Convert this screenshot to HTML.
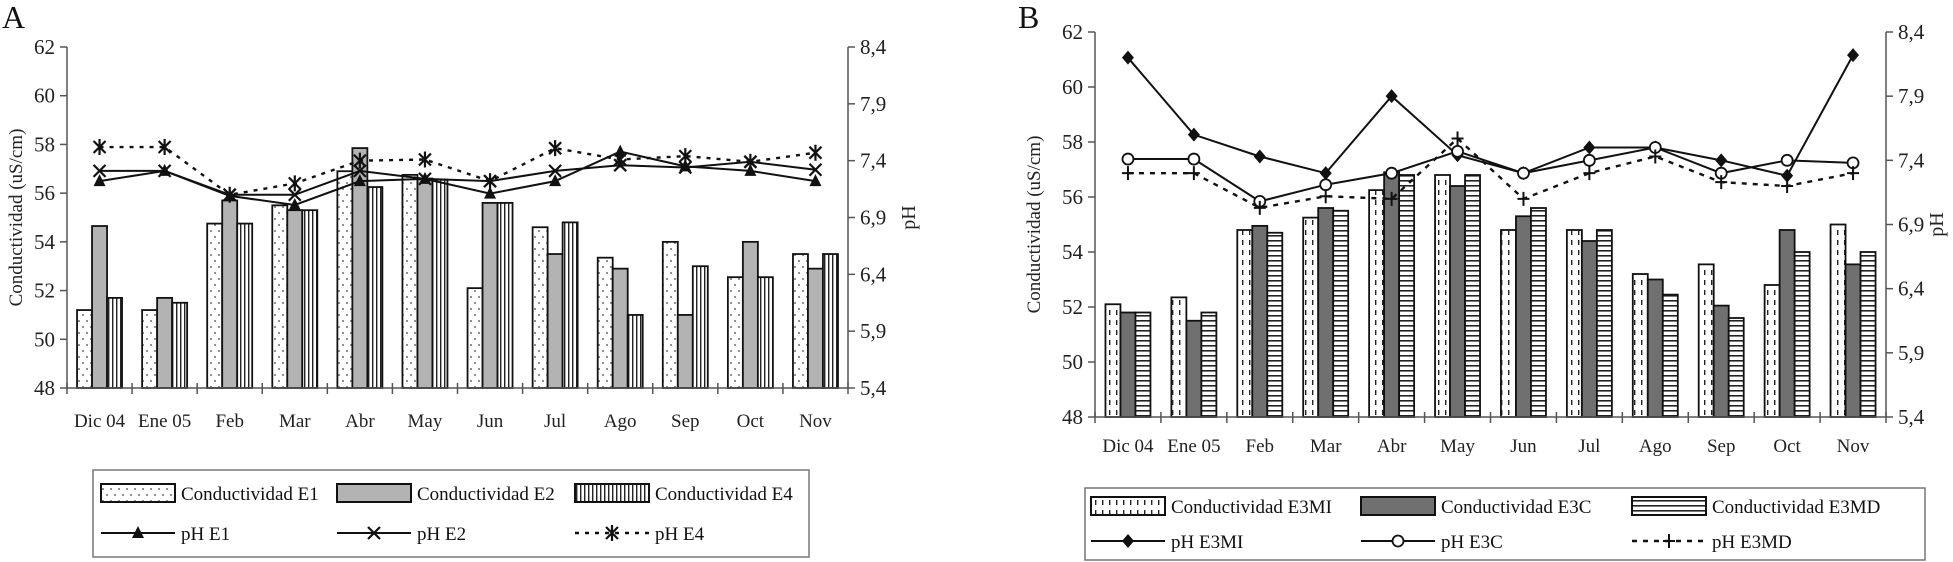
<!DOCTYPE html>
<html><head><meta charset="utf-8"><style>
html,body{margin:0;padding:0;background:#fff;}
svg{display:block;font-family:"Liberation Serif",serif;}
</style></head><body>
<svg id="root" width="1953" height="562" viewBox="0 0 1953 562" xmlns="http://www.w3.org/2000/svg">
<defs>
<pattern id="pDots" width="8" height="12" patternUnits="userSpaceOnUse"><rect width="8" height="12" fill="#fff"/><circle cx="3" cy="3" r="0.9" fill="#444"/><circle cx="7" cy="9" r="0.9" fill="#444"/></pattern>
<pattern id="pVert" width="4" height="10" patternUnits="userSpaceOnUse"><rect width="4" height="10" fill="#fff"/><rect x="0" width="1.4" height="10" fill="#222"/></pattern>
<pattern id="pDash" width="7" height="10" patternUnits="userSpaceOnUse"><rect width="7" height="10" fill="#fff"/><rect x="3" y="0" width="1.4" height="5" fill="#222"/></pattern>
<pattern id="pHor" width="10" height="5" patternUnits="userSpaceOnUse"><rect width="10" height="5" fill="#fff"/><rect y="0" width="10" height="1.6" fill="#222"/></pattern>
</defs>
<g id="gA"></g>
<g id="gB"></g>
</svg>
<script>
const months = ["Dic 04","Ene 05","Feb","Mar","Abr","May","Jun","Jul","Ago","Sep","Oct","Nov"];
const condTicks = [48,50,52,54,56,58,60,62];
const phTicks = ["5,4","5,9","6,4","6,9","7,4","7,9","8,4"];
const phTickVals = [5.4,5.9,6.4,6.9,7.4,7.9,8.4];
// Chart A
const condE1 = [51.2,51.2,54.75,55.5,56.9,56.75,52.1,54.6,53.35,54.0,52.55,53.5];
const condE2 = [54.65,51.7,55.7,55.3,57.85,56.6,55.6,53.5,52.9,51.0,54.0,52.9];
const condE4 = [51.7,51.5,54.75,55.3,56.25,56.55,55.6,54.8,51.0,53.0,52.55,53.5];
const phE1 = [7.22,7.31,7.09,7.01,7.22,7.24,7.11,7.22,7.48,7.35,7.31,7.22];
const phE2 = [7.31,7.31,7.10,7.10,7.31,7.24,7.22,7.31,7.36,7.34,7.39,7.32];
const phE4 = [7.52,7.52,7.10,7.20,7.40,7.41,7.22,7.51,7.41,7.44,7.39,7.47];
// Chart B
const condE3MI = [52.1,52.35,54.8,55.25,56.25,56.8,54.8,54.8,53.2,53.55,52.8,55.0];
const condE3C = [51.8,51.5,54.95,55.6,56.9,56.4,55.3,54.4,53.0,52.05,54.8,53.55];
const condE3MD = [51.8,51.8,54.7,55.5,56.8,56.8,55.6,54.8,52.45,51.6,54.0,54.0];
const phE3MI = [8.2,7.6,7.43,7.3,7.9,7.44,7.3,7.5,7.5,7.4,7.28,8.22];
const phE3C = [7.41,7.41,7.08,7.21,7.3,7.47,7.3,7.4,7.5,7.3,7.4,7.38];
const phE3MD = [7.3,7.3,7.03,7.12,7.1,7.57,7.1,7.3,7.43,7.23,7.2,7.3];

const NS="http://www.w3.org/2000/svg";
function mk(parent,tag,attrs,text){const e=document.createElementNS(NS,tag);for(const k in attrs)e.setAttribute(k,attrs[k]);if(text!==undefined)e.textContent=text;parent.appendChild(e);return e;}

function marker(g,type,x,y){
  if(type==="tri"){mk(g,"polygon",{points:`${x},${y-7} ${x-6},${y+5} ${x+6},${y+5}`,fill:"#111"});}
  else if(type==="x"){mk(g,"path",{d:`M${x-6},${y-6}L${x+6},${y+6}M${x+6},${y-6}L${x-6},${y+6}`,stroke:"#111","stroke-width":2.2,fill:"none"});}
  else if(type==="ast"){mk(g,"path",{d:`M${x-6},${y-6}L${x+6},${y+6}M${x+6},${y-6}L${x-6},${y+6}M${x},${y-8}L${x},${y+8}`,stroke:"#111","stroke-width":2.2,fill:"none"});}
  else if(type==="dia"){mk(g,"polygon",{points:`${x},${y-7} ${x+6},${y} ${x},${y+7} ${x-6},${y}`,fill:"#111"});}
  else if(type==="circ"){mk(g,"circle",{cx:x,cy:y,r:5.5,fill:"#fff",stroke:"#111","stroke-width":1.8});}
  else if(type==="plus"){mk(g,"path",{d:`M${x-6},${y}L${x+6},${y}M${x},${y-7}L${x},${y+7}`,stroke:"#111","stroke-width":2,fill:"none"});}
}

function drawChart(g,cfg){
  const L=cfg.left,R=cfg.right,T=cfg.top,B=cfg.bottom;
  const cw=(R-L)/months.length;
  const yC=v=>B-(v-48)/(62-48)*(B-T);
  const yP=v=>B-(v-5.4)/(8.4-5.4)*(B-T);
  const xC=i=>L+cw*(i+0.5);
  const t=mk(g,"text",{x:cfg.letterX,y:cfg.letterY,"font-size":32,fill:"#111"},cfg.letter);
  
  
  const bw=15;
  cfg.bars.forEach((s,si)=>{
    const bg=mk(g,"g",{});
    
    
    s.vals.forEach((v,i)=>{
      const x=xC(i)-1.5*bw+si*bw;
      const r=mk(bg,"rect",{x:x,y:yC(v),width:bw,height:B-yC(v),fill:s.fill,stroke:"#111","stroke-width":1.8});
      
      
    });
  });
  const ax=mk(g,"g",{stroke:"#555","stroke-width":1.5,fill:"none"});
  
  
  mk(ax,"line",{x1:L,y1:T,x2:L,y2:B});
  mk(ax,"line",{x1:R,y1:T,x2:R,y2:B});
  mk(ax,"line",{x1:L,y1:B,x2:R,y2:B});
  condTicks.forEach(v=>{mk(ax,"line",{x1:L-7,y1:yC(v),x2:L,y2:yC(v)});});
  phTickVals.forEach(v=>{mk(ax,"line",{x1:R,y1:yP(v),x2:R+7,y2:yP(v)});});
  for(let i=0;i<=months.length;i++){const x=L+cw*i;mk(ax,"line",{x1:x,y1:B-5,x2:x,y2:B+6});}
  condTicks.forEach(v=>{
    const e=mk(g,"text",{x:L-12,y:yC(v)+7,"font-size":21,"text-anchor":"end",fill:"#222"},String(v));
    
    
  });
  phTicks.forEach((lab,i)=>{
    const e=mk(g,"text",{x:R+12,y:yP(phTickVals[i])+7,"font-size":21,fill:"#222"},lab);
    
    
  });
  months.forEach((m,i)=>{
    const e=mk(g,"text",{x:xC(i),y:cfg.monthY,"font-size":19,"text-anchor":"middle",fill:"#222"},m);
    
    
  });
  const yt=mk(g,"text",{x:0,y:0,"font-size":19,"text-anchor":"middle",fill:"#222",transform:`translate(${cfg.ytX},${(T+B)/2}) rotate(-90)`},"Conductividad (uS/cm)");
  
  
  const pt=mk(g,"text",{x:0,y:0,"font-size":20,"text-anchor":"middle",fill:"#222",transform:`translate(${cfg.phX},${(T+B)/2}) rotate(-90)`},"pH");
  
  
  cfg.lines.forEach(s=>{
    const lg=mk(g,"g",{});
    
    
    const pts=s.vals.map((v,i)=>xC(i)+","+yP(v)).join(" ");
    mk(lg,"polyline",{points:pts,fill:"none",stroke:"#111","stroke-width":s.dash?2.4:2,"stroke-dasharray":s.dash||"none"});
    s.vals.forEach((v,i)=>marker(lg,s.marker,xC(i),yP(v)));
  });
  const lgd=mk(g,"g",{});
  
  
  const Lg=cfg.legend;
  mk(lgd,"rect",{x:Lg.x,y:Lg.y,width:Lg.w,height:Lg.h,fill:"#fff",stroke:"#777","stroke-width":1.5});
  cfg.bars.forEach((s,i)=>{
    const sx=Lg.cols[i];
    const it=mk(lgd,"g",{});
    
    
    mk(it,"rect",{x:sx,y:Lg.r1-9,width:74,height:18,fill:s.fill,stroke:"#111","stroke-width":2});
    mk(it,"text",{x:sx+80,y:Lg.r1+7,"font-size":19,fill:"#111"},s.label);
  });
  cfg.lines.forEach((s,i)=>{
    const sx=Lg.cols[i];
    const it=mk(lgd,"g",{});
    
    
    mk(it,"line",{x1:sx,y1:Lg.r2,x2:sx+74,y2:Lg.r2,stroke:"#111","stroke-width":s.dash?2.4:2,"stroke-dasharray":s.dash||"none"});
    marker(it,s.marker,sx+37,Lg.r2);
    mk(it,"text",{x:sx+80,y:Lg.r2+7,"font-size":19,fill:"#111"},s.label);
  });
}

drawChart(document.getElementById("gA"),{
  letter:"A",letterX:2,letterY:28,left:67,right:848,top:47,bottom:388,monthY:427,ytX:22,phX:915,
  bars:[{name:"e1",label:"Conductividad E1",vals:condE1,fill:"url(#pDots)"},
        {name:"e2",label:"Conductividad E2",vals:condE2,fill:"#b3b3b3"},
        {name:"e4",label:"Conductividad E4",vals:condE4,fill:"url(#pVert)"}],
  lines:[{name:"ph-e1",label:"pH E1",vals:phE1,marker:"tri"},
         {name:"ph-e2",label:"pH E2",vals:phE2,marker:"x"},
         {name:"ph-e4",label:"pH E4",vals:phE4,marker:"ast",dash:"4,6"}],
  legend:{x:93,y:470,w:716,h:87,r1:493,r2:533,cols:[101,337,575]}
});
drawChart(document.getElementById("gB"),{
  letter:"B",letterX:1018,letterY:28,left:1095,right:1886,top:32,bottom:417,monthY:452,ytX:1040,phX:1943,
  bars:[{name:"e3mi",label:"Conductividad E3MI",vals:condE3MI,fill:"url(#pDash)"},
        {name:"e3c",label:"Conductividad E3C",vals:condE3C,fill:"#707070"},
        {name:"e3md",label:"Conductividad E3MD",vals:condE3MD,fill:"url(#pHor)"}],
  lines:[{name:"ph-e3mi",label:"pH E3MI",vals:phE3MI,marker:"dia"},
         {name:"ph-e3c",label:"pH E3C",vals:phE3C,marker:"circ"},
         {name:"ph-e3md",label:"pH E3MD",vals:phE3MD,marker:"plus",dash:"5,6"}],
  legend:{x:1085,y:488,w:840,h:72,r1:506,r2:541,cols:[1091,1361,1632]}
});
</script>
</body></html>
